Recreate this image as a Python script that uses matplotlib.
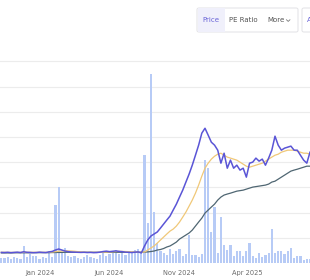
import numpy as np
import pandas as pd
import matplotlib
matplotlib.use("Agg")
import matplotlib.pyplot as plt
import matplotlib.dates as mdates
from matplotlib.patches import FancyBboxPatch, Rectangle
from matplotlib.lines import Line2D

# ---- data (weekly) ----
week_start = "2023-10-08"
n_weeks = 98
dates = pd.date_range(week_start, periods=n_weeks, freq="7D")

volume = [2.5,2.5,3,2,3,2.5,2,8.5,3,4.5, 3.5,3.5,2,3,2.5,6,3,29,38,5,
          7.5,3.5,3,3.5,2.5,2,3,4,3,2.5, 2,4,5,3.5,4.5,5.5,6.5,4.5,5.5,4,
          6,5,6.5,7,6,54,20,94.5,25.5,10, 6,5,4,7,4.5,6,7,3.5,4.5,14,
          4,4,3,4.5,51.5,47.5,15.5,28,5,23, 9,6.5,9,3.5,6,6,3.5,6,10,3.5,
          2.5,5,3,4,5,17,5,6,6,4.5, 6,7.5,2.5,3.5,3.5,1.5,2,2]

price = [8.4,8.3,8.5,8.2,8.4,8.6,8.3,8.9,8.5,8.4,8.2,8.3,8.6,8.4,8.3,8.8,9.2,
         10.3,11.1,10.3,9.5,
         9.0,8.7,8.6,8.5,8.4,8.5,8.3,8.4,8.2,8.3,
         8.6,9.1,9.4,9.0,9.3,9.6,
         9.2,9.0,8.6,8.5,8.3,8.6,8.8,8.0,
         13.5,18.2,21.4,23.0,24.6,27.7,30.9,34.1,37.2,42.0,
         46.7,52.3,57.8,64.2,70.5,77.6,85.5,93.5,103.0,106.9,
         101.4,95.8,93.5,89.5,79.2,87.1,75.2,81.6,75.2,77.6,
         73.7,75.2,68.1,79.2,80.0,83.2,80.8,82.4,77.6,83.2,
         89.5,100.6,93.5,89.5,91.1,91.9,92.7,89.5,89.5,85.5,
         81.6,79.2,87.9]

ma50 = [8.5,8.5,8.4,8.4,8.4,8.4,8.4,8.5,8.5,8.5, 8.5,8.5,8.5,8.5,8.5,8.6,8.7,9.0,9.3,9.5,
        9.6,9.6,9.5,9.3,9.0,8.8,8.6,8.5,8.5,8.4, 8.4,8.5,8.6,8.7,8.8,8.9,9.1,9.2,9.2,9.1,
        9.0,8.9,8.8,8.7,8.6,
        8.7,10.3,11.9,13.5,15.8,18.2,20.6,23.0,25.3,26.9,
        29.3,32.5,36.4,40.4,45.1,49.9,55.4,61.8,68.9,75.2,
        79.2,82.4,84.7,86.3,87.1,85.5,84.0,83.2,82.4,81.6,
        80.0,78.4,76.8,76.0,76.8,77.6,78.4,79.2,80.8,82.4,
        84.0,85.5,86.3,87.9,88.7,89.5,89.5,89.5,88.7,87.9,
        87.1,87.1,86.3]

ma200 = [8.0,8.0,8.0,8.0,8.1,8.1,8.1,8.1,8.1,8.1, 8.2,8.2,8.2,8.2,8.2,8.2,8.3,8.3,8.4,8.4,
         8.5,8.5,8.5,8.5,8.5,8.5,8.5,8.5,8.5,8.5, 8.5,8.5,8.5,8.5,8.5,8.5,8.5,8.5,8.5,8.5,
         8.5,8.5,8.5,8.5,8.5,
         8.6,8.8,9.1,9.5,10.3,10.7,11.5,12.7,13.5,15.0,
         16.6,19.0,20.6,22.2,23.8,26.1,29.3,32.5,35.6,39.6,
         42.0,44.4,46.7,49.9,52.3,53.9,54.7,55.4,56.2,57.0,
         57.4,57.8,58.6,59.4,60.2,60.6,61.0,61.4,61.8,62.6,
         64.2,64.9,66.5,68.1,69.7,71.3,72.9,73.7,74.4,75.2,
         76.0,76.8,76.8]

tick_dates = ["2024-01-01", "2024-06-01", "2024-11-01", "2025-04-01"]
tick_labels = ["Jan 2024", "Jun 2024", "Nov 2024", "Apr 2025"]
tabs = ["Price", "PE Ratio", "More"]

# ---- figure ----
W, H = 310, 280
fig = plt.figure(figsize=(W / 100, H / 100), dpi=100)
fig.patch.set_facecolor("white")

ax_bottom_px = 263
ax_top_px = 55
axv = fig.add_axes([0, (H - ax_bottom_px) / H, 1, (ax_bottom_px - ax_top_px) / H])
ax = axv.twinx()

p_max = 165
v_max = 104
grid_step = 20

xmin = mdates.date2num(pd.Timestamp("2023-10-05"))
xmax = mdates.date2num(pd.Timestamp("2025-08-17"))

# volume bars
axv.bar(dates, volume, width=5, color="#b7cbf6", align="center", zorder=2, linewidth=0)
axv.set_ylim(0, v_max)
axv.set_yticks(np.arange(1, 9) * grid_step * v_max / p_max)
axv.grid(axis="y", color="#ececec", linewidth=0.8, zorder=0)
axv.set_axisbelow(True)

# lines
ax.plot(dates, ma200, color="#4f6672", linewidth=0.9, zorder=3)
ax.plot(dates, ma50, color="#f0c878", linewidth=0.9, zorder=4)
ax.plot(dates, price, color="#5a55d6", linewidth=1.1, zorder=5)
ax.set_ylim(0, p_max)

for a in (ax, axv):
    a.set_xlim(xmin, xmax)
    for s in a.spines.values():
        s.set_visible(False)
    a.tick_params(axis="y", left=False, right=False, labelleft=False, labelright=False)

axv.set_xticks([mdates.date2num(pd.Timestamp(d)) for d in tick_dates])
axv.set_xticklabels(tick_labels, fontsize=4.8, color="#6b6b6b")
axv.tick_params(axis="x", length=0, pad=5)
ax.tick_params(axis="x", bottom=False, labelbottom=False)

# ---- toolbar ----
def fx(px):
    return px / W

def fy(py):
    return 1 - py / H

box = FancyBboxPatch((fx(197), fy(32)), fx(298) - fx(197), fy(8) - fy(32),
                     boxstyle="round,pad=0,rounding_size=0.006",
                     transform=fig.transFigure, facecolor="white",
                     edgecolor="#e2e2e6", linewidth=0.7)
fig.add_artist(box)
hl = Rectangle((fx(198), fy(31.5)), fx(225) - fx(198), fy(8.5) - fy(31.5),
               transform=fig.transFigure, facecolor="#f0f0fb", edgecolor="none")
fig.add_artist(hl)
fig.text(fx(211), fy(20.5), tabs[0], fontsize=5, color="#6a64d8", ha="center", va="center")
fig.text(fx(243), fy(20.5), tabs[1], fontsize=5, color="#555555", ha="center", va="center")
fig.text(fx(276), fy(20.5), tabs[2], fontsize=5, color="#555555", ha="center", va="center")
fig.add_artist(Line2D([fx(286.5), fx(288.2), fx(289.9)], [fy(19.8), fy(21.4), fy(19.8)],
                      transform=fig.transFigure, color="#777777", linewidth=0.6))

box2 = FancyBboxPatch((fx(302), fy(32)), fx(318) - fx(302), fy(8) - fy(32),
                      boxstyle="round,pad=0,rounding_size=0.006",
                      transform=fig.transFigure, facecolor="white",
                      edgecolor="#e2e2e6", linewidth=0.7)
fig.add_artist(box2)
fig.text(fx(306.5), fy(20.5), "A", fontsize=5, color="#6a64d8", ha="left", va="center")

fig.savefig("out.png", dpi=100, facecolor="white")
